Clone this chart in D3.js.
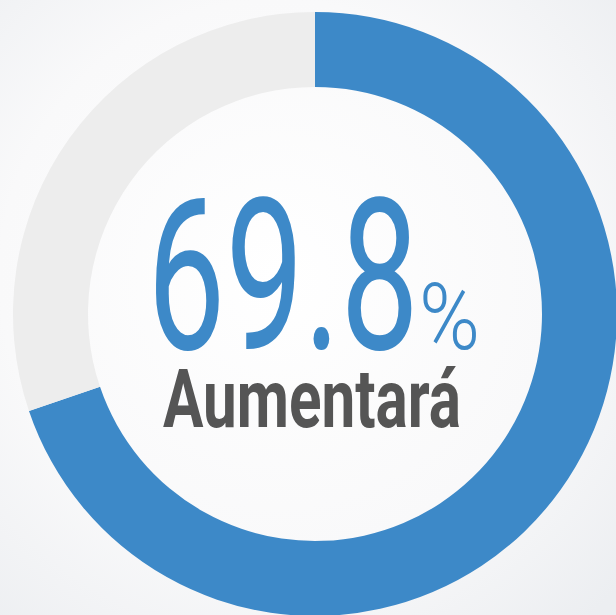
<!DOCTYPE html>
<html>
<head>
<meta charset="utf-8">
<script src="https://cdn.jsdelivr.net/npm/d3@7"></script>
<style>
  html, body { margin: 0; padding: 0; overflow: hidden; }
  body { width: 616px; height: 615px; }
</style>
</head>
<body>
<div class="donut"></div>
<script>
'use strict';
(function() {
  // Data
  var categories = ['Aumentará', 'Resto'];
  var values = [69.8, 30.2];
  var mainLabel = '69.8';
  var unitLabel = '%';

  var COLORS = ['#3d89c8', '#ededed'];

  var w = 616;
  var h = 615;
  var cx = 315;
  var cy = 314;
  var outerR = 302;
  var innerR = 227;

  var svg = d3.select('.donut')
    .append('svg')
    .attr('width', w)
    .attr('height', h);

  // Background shading
  var defs = svg.append('defs');
  var bg = defs.append('radialGradient')
    .attr('id', 'bg')
    .attr('cx', '45%')
    .attr('cy', '45%')
    .attr('r', '75%');
  bg.append('stop').attr('offset', '0%').attr('stop-color', '#ffffff');
  bg.append('stop').attr('offset', '60%').attr('stop-color', '#f9f9fa');
  bg.append('stop').attr('offset', '100%').attr('stop-color', '#eceef1');

  svg.append('rect')
    .attr('width', w)
    .attr('height', h)
    .attr('fill', 'url(#bg)');

  var pie = d3.pie().sort(null).value(function(d) { return d; });
  var arc = d3.arc().innerRadius(innerR).outerRadius(outerR);

  var g = svg.append('g')
    .attr('transform', 'translate(' + cx + ',' + cy + ')');

  g.selectAll('path')
    .data(pie(values))
    .enter()
    .append('path')
    .attr('d', arc)
    .attr('fill', function(d, i) { return COLORS[i]; });

  // Labels, squeezed horizontally to mimic a condensed face
  var fitText = function(txt, size, weight, color, left, baseline, width) {
    var t = svg.append('text')
      .text(txt)
      .attr('font-family', 'Roboto, sans-serif')
      .attr('font-size', size)
      .attr('font-weight', weight)
      .attr('fill', color);
    var bb = t.node().getBBox();
    var sx = width / bb.width;
    t.attr('transform', 'translate(' + left + ',' + baseline + ') scale(' + sx + ',1)');
    return t;
  };

  fitText(mainLabel, 212, 400, COLORS[0], 147, 349, 272);
  fitText(unitLabel, 92, 300, COLORS[0], 419, 349, 61);
  fitText(categories[0], 81, 700, '#555555', 163, 427, 298);
})();
</script>
</body>
</html>
